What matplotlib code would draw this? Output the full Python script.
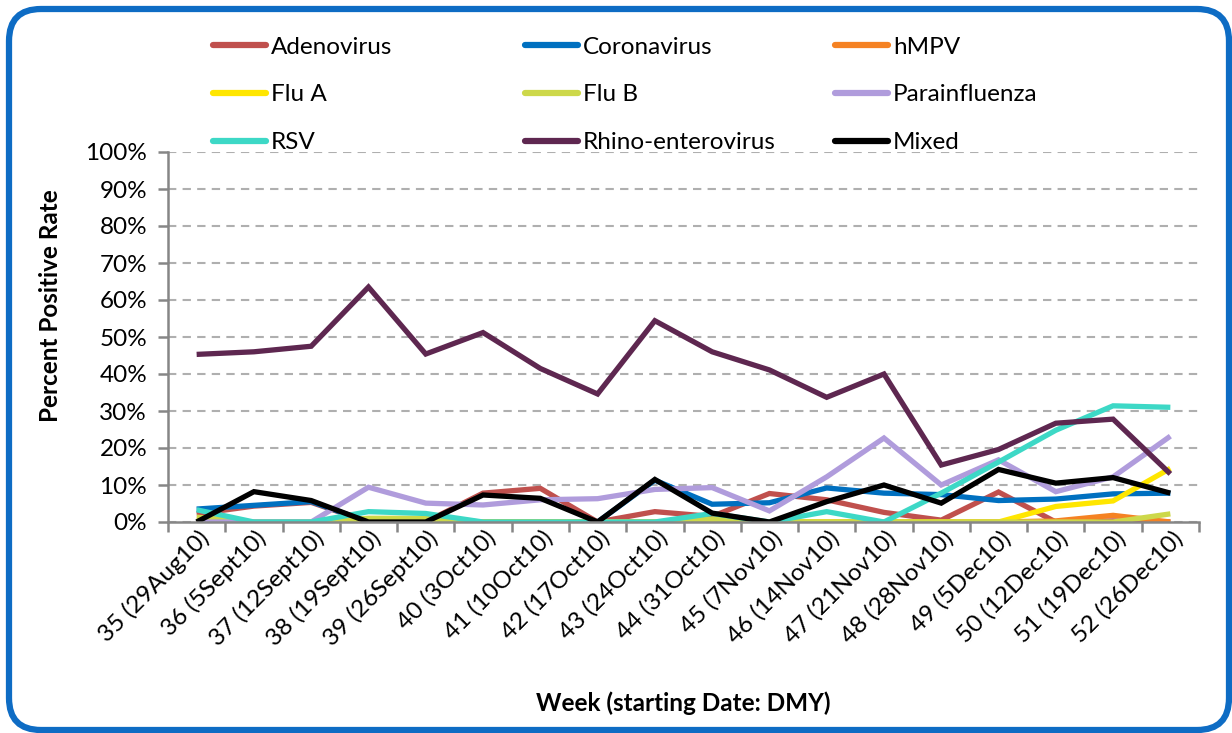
import numpy as np
import matplotlib
matplotlib.use("Agg")
import matplotlib.pyplot as plt
from matplotlib.patches import FancyBboxPatch
from matplotlib.transforms import IdentityTransform, ScaledTranslation

plt.rcParams['font.family'] = ['Lato', 'DejaVu Sans']

weeks = ['35 (29Aug10)', '36 (5Sept10)', '37 (12Sept10)', '38 (19Sept10)', '39 (26Sept10)',
         '40 (3Oct10)', '41 (10Oct10)', '42 (17Oct10)', '43 (24Oct10)', '44 (31Oct10)',
         '45 (7Nov10)', '46 (14Nov10)', '47 (21Nov10)', '48 (28Nov10)', '49 (5Dec10)',
         '50 (12Dec10)', '51 (19Dec10)', '52 (26Dec10)']

adeno = [2.2, 4.3, 5.3, 0, 0, 7.8, 9.1, 0, 2.8, 1.5, 7.7, 6.0, 2.6, 0.5, 8.1, 0, 0.3, 0]
corona = [3.5, 4.5, 5.5, 0, 0, 0, 0, 0, 11.3, 4.8, 5.2, 9.2, 7.8, 7.4, 5.8, 6.2, 7.6, 7.8]
hmpv = [0, 0, 0, 0, 0, 0, 0, 0, 0, 0, 0, 0, 0, 0, 0, 0.3, 1.8, 0]
flu_a = [0, 0, 0, 0, 0, 0, 0, 0, 0, 0, 0, 0, 0, 0, 0, 4.2, 5.7, 14.5]
flu_b = [1.3, 0, 0, 1.0, 1.0, 0, 0, 0, 0, 0.8, 0, 0, 0, 0, 0, 0, 0, 2.2]
para = [0, 0, 0, 9.4, 5.1, 4.6, 6.0, 6.3, 8.8, 9.3, 3.0, 12.2, 22.7, 10.0, 16.8, 8.2, 12.2, 23.2]
rsv = [3.3, 0, 0, 2.8, 2.3, 0, 0, 0, 0, 2.3, 0, 2.8, 0, 7.8, 16.2, 24.8, 31.4, 31.0]
rhino = [45.3, 46.0, 47.5, 63.5, 45.4, 51.2, 41.5, 34.6, 54.4, 46.0, 41.1, 33.7, 40.0, 15.4, 19.6, 26.7, 27.8, 13.0]
mixed = [0, 8.2, 5.8, 0, 0, 7.3, 6.4, 0, 11.5, 2.4, 0, 5.5, 10.0, 5.1, 14.2, 10.5, 12.0, 7.8]

series = [
    ('Adenovirus', adeno, '#C0504D'),
    ('Coronavirus', corona, '#0070C0'),
    ('hMPV', hmpv, '#F58223'),
    ('Flu A', flu_a, '#FFE600'),
    ('Flu B', flu_b, '#CDD84A'),
    ('Parainfluenza', para, '#B09CDC'),
    ('RSV', rsv, '#3DD8C6'),
    ('Rhino-enterovirus', rhino, '#5E2750'),
    ('Mixed', mixed, '#000000'),
]

FS = 17.5

fig = plt.figure(figsize=(12.32, 7.33), dpi=100)
ax = fig.add_axes([168 / 1232, 1 - 522 / 733, (1199 - 168) / 1232, (522 - 152) / 733])

x = np.arange(len(weeks))
handles = []
for name, vals, col in series:
    ln, = ax.plot(x, np.array(vals) / 100, color=col, lw=3.8, label=name,
                  solid_joinstyle='miter', solid_capstyle='butt')
    handles.append(ln)

ax.set_xlim(-0.5, len(weeks) - 0.5)
ax.set_ylim(0, 1)
ax.set_yticks(np.arange(0, 1.01, 0.1))
ax.set_yticklabels([f'{v}%' for v in range(0, 101, 10)], fontsize=FS)
ax.yaxis.grid(True, ls=(0, (4, 3)), color='#AFAFAF', lw=1.5)
ax.set_axisbelow(True)

ax.set_xticks(x)
ax.set_xticklabels(weeks, rotation=45, ha='right', va='center', rotation_mode='anchor', fontsize=FS)
ax.tick_params(axis='x', length=0, pad=12)
shift = ScaledTranslation(9 / 100, 4 / 100, fig.dpi_scale_trans)
for lab in ax.get_xticklabels():
    lab.set_transform(lab.get_transform() + shift)
ax.set_xticks(np.arange(-0.5, len(weeks)), minor=True)
ax.tick_params(axis='x', which='minor', length=7, width=1.8, color='#868686', direction='out')
ax.tick_params(axis='y', length=7, width=1.8, color='#868686', direction='out', pad=8)

for s in ['top', 'right']:
    ax.spines[s].set_visible(False)
for s in ['left', 'bottom']:
    ax.spines[s].set_color('#868686')
    ax.spines[s].set_linewidth(1.8)

fig.text(51 / 1232, 1 - 306 / 733, 'Percent Positive Rate', fontsize=FS, fontweight='bold',
         rotation=90, ha='center', va='center')
fig.text(683 / 1232, 1 - 703 / 733, 'Week (starting Date: DMY)', fontsize=FS, fontweight='bold',
         ha='center', va='center')

# legend: three columns of three, row-wise order like the original
cols_x = [203, 515, 825]
for ci in range(3):
    hs = handles[ci::3]
    leg = fig.legend(handles=hs, loc='upper left', bbox_to_anchor=(cols_x[ci] / 1232, 1 - 27 / 733),
                     frameon=False, fontsize=FS, handlelength=2.2, handletextpad=0.2,
                     labelspacing=1.1, borderaxespad=0)
    for l in leg.get_lines():
        l.set_linewidth(4.5)
        l.set_solid_capstyle('round')

frame = FancyBboxPatch((9, 3), 1232 - 12, 733 - 12, boxstyle='round,pad=0,rounding_size=32',
                       transform=IdentityTransform(), fill=False, ec='#0E6CC4', lw=4.5)
fig.patches.append(frame)

fig.savefig('out.png', dpi=100)
